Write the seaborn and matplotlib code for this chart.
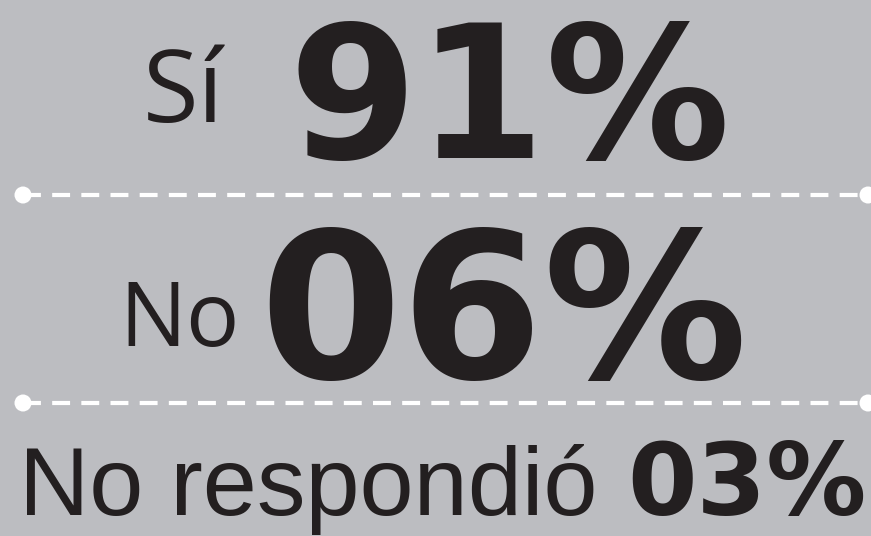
import matplotlib
matplotlib.use("Agg")
import matplotlib.pyplot as plt
import seaborn as sns

# survey answers and their shares (%)
labels = ["Sí", "No", "No respondió"]
values = [91, 6, 3]

BG = "#bcbdc1"
INK = "#231f20"
W, H = 871, 536

sns.set_theme(style="white", rc={"axes.facecolor": BG, "figure.facecolor": BG})
plt.rcParams["font.family"] = ["DejaVu Sans"]

LABEL_FONT = ["Open Sans", "DejaVu Sans"]
NARROW_FONT = ["Liberation Sans", "DejaVu Sans"]
BIG_FONT = ["DejaVu Sans"]

fig = plt.figure(figsize=(W / 100, H / 100), dpi=100)
ax = fig.add_axes([0, 0, 1, 1])
ax.set_xlim(0, W)
ax.set_ylim(H, 0)
ax.axis("off")


def pct(v):
    return f"{v:02d}%"


# row 1
ax.text(143, 122, labels[0], fontsize=73, color=INK, ha="left", va="baseline", family=LABEL_FONT)
ax.text(288, 158, pct(values[0]), fontsize=133, fontweight="bold", color=INK,
        ha="left", va="baseline", family=BIG_FONT)

# row 2
ax.text(119, 346, labels[1], fontsize=64, color=INK, ha="left", va="baseline", family=LABEL_FONT)
ax.text(259, 378, pct(values[1]), fontsize=147, fontweight="bold", color=INK,
        ha="left", va="baseline", family=BIG_FONT)

# row 3
ax.text(19, 515, labels[2], fontsize=70, color=INK, ha="left", va="baseline", family=NARROW_FONT)
ax.text(866, 515, pct(values[2]), fontsize=72, fontweight="bold", color=INK,
        ha="right", va="baseline", family=BIG_FONT)

# dashed dividers with round end dots
for y in [195, 403]:
    ax.plot([23, 868], [y, y], color="white", lw=3, dashes=(4.3, 2.7), solid_capstyle="butt")
    sns.scatterplot(x=[23, 868], y=[y, y], s=150, color="white", edgecolor="none", ax=ax, zorder=3)

fig.savefig("out.png", dpi=100, facecolor=BG)
